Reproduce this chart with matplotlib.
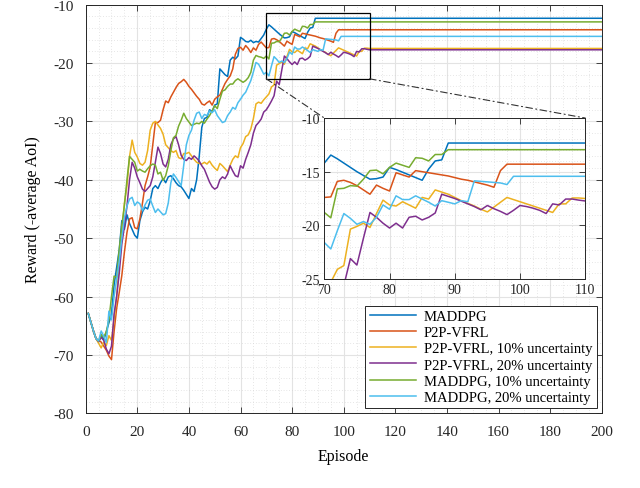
import matplotlib
matplotlib.use('Agg')
import matplotlib.pyplot as plt
from matplotlib.patches import Rectangle, ConnectionPatch
from matplotlib.ticker import MultipleLocator

plt.rcParams['font.family'] = ['Liberation Serif', 'DejaVu Serif']
plt.rcParams['axes.unicode_minus'] = False

# ---------------- data (reward per episode, starting at episode 1) ----------------
labels = ['MADDPG', 'P2P-VFRL', 'P2P-VFRL, 10% uncertainty',
          'P2P-VFRL, 20% uncertainty', 'MADDPG, 10% uncertainty',
          'MADDPG, 20% uncertainty']
colors = ['#0072BD', '#D95319', '#EDB120', '#7E2F8E', '#77AC30', '#4DBEEE']
last_episode = 200  # each curve holds its final value until this episode

maddpg = [-62.9, -64.4, -65.9, -67.2, -67.8, -66.5, -67.5, -66.0, -64.5, -63.0,
          -58.0, -55.0, -52.0, -47.0, -48.5, -46.0, -47.5, -48.5, -49.5, -50.0,
          -47.0, -45.5, -44.7, -45.0, -43.6, -41.5, -41.0, -41.5, -40.5, -39.8,
          -40.5, -39.5, -39.3, -39.8, -40.5, -41.0, -41.2, -41.8, -42.5, -43.2,
          -41.5, -42.0, -40.0, -36.0, -31.0, -29.5, -29.3, -28.0, -28.3, -27.2,
          -27.0, -21.0, -21.5, -22.0, -22.3, -19.5, -19.0, -19.3, -18.8, -15.6,
          -15.9, -16.3, -16.4, -16.1, -16.5, -16.3, -16.4, -15.8, -15.2, -14.2,
          -13.45, -13.8, -14.2, -14.6, -15.0, -15.35, -15.7, -15.65, -15.5, -14.6,
          -14.8, -15.05, -15.3, -15.55, -15.8, -14.75, -14.0, -13.9, -12.33]

p2p = [-62.9, -64.4, -65.9, -67.2, -67.5, -67.8, -68.5, -69.2, -70.2, -70.8,
       -66.0, -62.0, -59.3, -56.4, -52.4, -49.0, -46.7, -46.5, -48.2, -48.4,
       -46.7, -44.0, -41.0, -39.5, -37.8, -34.0, -30.2, -30.2, -29.8, -28.0,
       -26.5, -26.8, -25.8, -25.0, -24.2, -23.5, -23.2, -22.8, -23.3, -24.0,
       -24.5, -25.1, -25.7, -26.2, -27.0, -27.2, -26.8, -26.5, -27.2, -26.2,
       -25.8, -25.5, -24.5, -23.5, -22.8, -22.2, -21.0, -18.5, -17.5, -17.3,
       -17.8, -17.0, -17.5, -18.2, -17.4, -17.8, -16.8, -16.4, -16.9, -17.4,
       -17.35, -15.9, -15.8, -16.0, -16.3, -16.7, -17.1, -16.25, -16.55, -16.8,
       -15.1, -15.3, -15.5, -14.9, -15.0, -15.1, -15.2, -15.3, -15.4, -15.55,
       -15.7, -15.8, -15.95, -16.1, -16.25, -16.45, -14.9, -14.3]

p2p_10 = [-62.9, -64.4, -65.9, -67.2, -68.0, -68.8, -67.8, -68.4, -66.7, -67.5,
          -64.0, -60.0, -54.0, -49.0, -44.0, -41.0, -36.0, -33.2, -35.3, -36.1,
          -37.2, -37.5, -37.0, -35.0, -31.5, -30.3, -30.0, -30.6, -31.2, -32.2,
          -34.0, -34.5, -35.0, -35.3, -35.0, -36.2, -36.4, -35.5, -35.5, -35.3,
          -35.9, -36.5, -37.0, -37.2, -37.3, -37.0, -37.3, -36.8, -37.5, -38.0,
          -38.4, -37.2, -37.6, -38.1, -38.6, -37.5, -36.5, -35.9, -36.2, -34.5,
          -33.8, -32.6, -32.3, -31.3, -29.5, -27.0, -26.7, -26.9, -26.3, -25.8,
          -25.3, -24.1, -23.75, -20.35, -20.1, -19.8, -20.2, -18.9, -17.65, -18.1,
          -18.2, -17.8, -18.1, -18.4, -17.4, -17.55, -16.7, -16.9, -17.1, -17.4,
          -17.7, -17.95, -18.2, -18.5, -18.75, -18.3, -17.85, -17.4, -17.6, -17.8,
          -18.0, -18.2, -18.4, -18.6, -18.8, -18.0, -18.0, -17.45, -17.45, -17.5]

p2p_20 = [-62.9, -64.4, -65.9, -67.2, -67.7, -67.0, -67.5, -69.0, -69.8, -68.5,
          -63.0, -60.0, -56.0, -51.0, -48.0, -44.5, -40.0, -37.0, -38.0, -39.5,
          -40.5, -41.6, -42.0, -41.5, -41.0, -39.5, -37.0, -34.4, -35.5, -37.3,
          -37.8, -36.5, -34.0, -33.0, -32.6, -34.0, -35.8, -36.5, -36.7, -36.2,
          -36.5, -35.9, -36.3, -36.8, -37.6, -38.2, -39.3, -40.4, -41.2, -41.6,
          -41.3, -40.0, -39.5, -39.8, -39.0, -37.6, -38.5, -39.3, -39.5, -37.6,
          -38.0, -36.5, -35.3, -34.0, -32.0, -30.7, -30.2, -29.6, -28.4, -28.0,
          -27.3, -26.5, -25.6, -23.1, -23.7, -21.2, -18.8, -19.25, -19.8, -20.25,
          -19.8, -20.25, -19.25, -19.15, -19.5, -19.25, -18.85, -17.1, -17.3, -17.5,
          -17.75, -18.0, -18.25, -18.55, -18.15, -18.45, -18.7, -19.0, -18.6, -18.15,
          -18.25, -18.4, -18.6, -18.9, -18.0, -18.1, -17.55, -17.55, -17.65, -17.73]

maddpg_10 = [-62.9, -64.4, -65.9, -67.2, -67.6, -66.5, -67.0, -66.0, -64.0, -60.0,
             -56.5, -56.7, -52.0, -47.9, -44.4, -40.0, -36.0, -36.5, -37.0, -38.5,
             -38.2, -38.5, -38.7, -38.1, -37.6, -37.3, -37.5, -39.0, -38.7, -40.1,
             -39.3, -37.6, -35.0, -32.8, -32.4, -30.8, -29.8, -28.6, -29.5, -30.1,
             -30.7, -30.5, -30.3, -30.4, -30.0, -30.3, -29.6, -29.0, -28.2, -27.3,
             -27.8, -26.2, -24.8, -24.6, -24.0, -23.6, -23.6, -23.0, -22.7, -23.0,
             -23.3, -23.0, -22.5, -21.6, -19.5, -18.7, -18.9, -19.0, -19.2, -18.8,
             -19.3, -16.6, -16.55, -16.3, -16.35, -15.7, -14.9, -14.85, -15.2, -14.6,
             -14.2, -14.4, -14.6, -13.7, -13.75, -14.0, -13.4, -13.4, -12.95]

maddpg_20 = [-62.9, -64.4, -65.9, -67.2, -67.6, -65.9, -66.8, -67.9, -62.5, -64.0,
             -60.0, -57.0, -54.0, -50.0, -46.5, -44.5, -43.3, -43.0, -44.4, -43.8,
             -44.1, -45.3, -44.3, -43.5, -43.3, -44.5, -45.6, -45.0, -45.5, -46.0,
             -45.8, -44.0, -40.5, -39.0, -39.6, -40.3, -41.0, -37.5, -34.0, -32.4,
             -31.5, -29.8, -28.6, -28.4, -29.5, -28.8, -29.0, -28.2, -28.5, -28.0,
             -29.0, -29.6, -30.2, -30.0, -29.0, -28.4, -27.6, -27.9, -26.8, -26.2,
             -25.5, -25.0, -24.0, -23.0, -21.5, -19.9, -20.2, -21.0, -21.9, -21.6,
             -22.2, -20.5, -18.9, -19.35, -19.9, -19.65, -19.9, -19.25, -18.1, -18.5,
             -17.25, -17.6, -17.6, -17.25, -17.55, -17.85, -18.2, -17.7, -17.85, -18.0,
             -17.7, -17.8, -15.85, -15.9, -15.95, -16.0, -16.05, -16.2, -15.43]

series = [maddpg, p2p, p2p_10, p2p_20, maddpg_10, maddpg_20]

x_ticks = [0, 20, 40, 60, 80, 100, 120, 140, 160, 180, 200]
y_ticks = [-80, -70, -60, -50, -40, -30, -20, -10]
inset_x_ticks = [70, 80, 90, 100, 110]
inset_y_ticks = [-25, -20, -15, -10]
zoom_box = (70, 110, -22.7, -11.4)   # episode range, reward range of the marked box


def xy(vals):
    xs = list(range(1, len(vals) + 1)) + [last_episode]
    ys = list(vals) + [vals[-1]]
    return xs, ys


def style_axes(ax, fs, xminor, yminor, pad):
    ax.set_axisbelow(True)
    ax.grid(True, which='major', color='#e3e3e3', lw=0.8, ls='-')
    ax.grid(True, which='minor', color='#cfcfcf', lw=0.5, ls=(0, (1, 3)))
    ax.xaxis.set_minor_locator(MultipleLocator(xminor))
    ax.yaxis.set_minor_locator(MultipleLocator(yminor))
    ax.tick_params(which='major', direction='in', top=True, right=True,
                   length=4, width=0.6, colors='#262626', labelsize=fs, pad=pad)
    ax.tick_params(which='minor', length=0, top=True, right=True)
    for s in ax.spines.values():
        s.set_color('#262626')
        s.set_linewidth(0.7)


fig = plt.figure(figsize=(6.4, 4.89), dpi=100)
ax = fig.add_axes([0.1339, 0.1528, 0.8063, 0.8356])

for vals, lab, col in zip(series, labels, colors):
    xs, ys = xy(vals)
    ax.plot(xs, ys, color=col, lw=1.1, label=lab)

ax.set_xlim(0, 200)
ax.set_ylim(-80, -10)
ax.set_xticks(x_ticks)
ax.set_yticks(y_ticks)
style_axes(ax, 11, 5, 2, 8.5)
ax.set_xlabel('Episode', fontsize=11.5, labelpad=7)
ax.set_ylabel('Reward (-average AoI)', fontsize=11.5, labelpad=9)

x0, x1, y0, y1 = zoom_box
ax.add_patch(Rectangle((x0, y0), x1 - x0, y1 - y0, fill=False, ec='black',
                       lw=0.9, zorder=6))

leg = ax.legend(loc='lower right', fontsize=10.5, fancybox=False, framealpha=1,
                edgecolor='#262626', handlelength=3.2, labelspacing=0.2,
                borderpad=0.3, borderaxespad=0.35, handletextpad=0.5)
leg.get_frame().set_linewidth(0.7)

# inset
axin = fig.add_axes([0.5067, 0.4274, 0.4078, 0.3292])
for vals, col in zip(series, colors):
    xs, ys = xy(vals)
    axin.plot(xs, ys, color=col, lw=1.1)
axin.set_xlim(70, 110)
axin.set_ylim(-25, -10)
axin.set_xticks(inset_x_ticks)
axin.set_yticks(inset_y_ticks)
style_axes(axin, 10, 2, 1, 3)
axin.set_facecolor('white')

for xa, xb in [(x0, 0), (x1, 1)]:
    con = ConnectionPatch(xyA=(xa, y0), coordsA=ax.transData,
                          xyB=(xb, 1), coordsB=axin.transAxes,
                          ls=(0, (6, 3, 1, 3)), color='#333333', lw=0.8)
    fig.add_artist(con)

fig.savefig('out.png', dpi=100)
